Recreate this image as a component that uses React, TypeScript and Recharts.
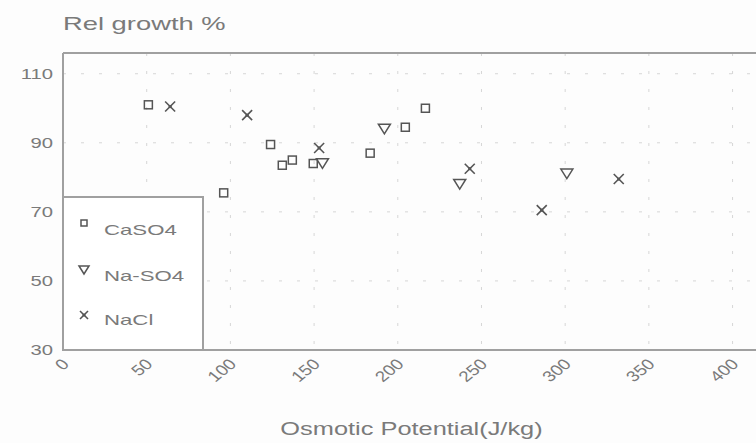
import React from "react"
import {
  ScatterChart,
  Scatter,
  XAxis,
  YAxis,
  CartesianGrid,
  Legend,
  Label,
  ReferenceLine,
} from "recharts"

// osmotic potential (J/kg) vs relative growth (%)
const caso4X = [51, 96, 124, 131, 137, 149.5, 183.5, 204.5, 216.5]
const caso4Y = [101, 75.5, 89.5, 83.5, 85, 84, 87, 94.5, 100]
const naso4X = [155, 192, 237, 301]
const naso4Y = [84, 94, 78, 81]
const naclX = [64, 110, 153, 243, 286, 332]
const naclY = [100.5, 98, 88.5, 82.5, 70.5, 79.5]

const xTicks = [0, 50, 100, 150, 200, 250, 300, 350, 400]
const yTicks = [30, 50, 70, 90, 110]
const xMax = 414
const yMin = 30
const yMax = 116

const toPoints = (xs: number[], ys: number[]) => xs.map((x, i) => ({ x, y: ys[i] }))

const INK = "#555"
const TEXT = "#7a7a7a"
const FRAME = "#a0a0a0"
const FONT = '"Liberation Sans", Arial, sans-serif'
const TICK_STRETCH = 1.25

function SquareMark({ cx, cy, s = 8 }: { cx?: number; cy?: number; s?: number }) {
  if (cx == null || cy == null) return null
  return (
    <rect x={cx - s / 2} y={cy - s / 2} width={s} height={s} fill="none" stroke={INK} strokeWidth={1.5} />
  )
}

function TriangleMark({ cx, cy, s = 12 }: { cx?: number; cy?: number; s?: number }) {
  if (cx == null || cy == null) return null
  const h = s * 0.8
  return (
    <path
      d={`M${cx - s / 2},${cy - h / 2} L${cx + s / 2},${cy - h / 2} L${cx},${cy + h / 2} Z`}
      fill="none"
      stroke={INK}
      strokeWidth={1.5}
    />
  )
}

function CrossMark({ cx, cy, s = 10 }: { cx?: number; cy?: number; s?: number }) {
  if (cx == null || cy == null) return null
  const r = s / 2
  return (
    <g stroke={INK} strokeWidth={1.6}>
      <line x1={cx - r} y1={cy - r} x2={cx + r} y2={cy + r} />
      <line x1={cx - r} y1={cy + r} x2={cx + r} y2={cy - r} />
      <circle cx={cx} cy={cy} r={1.6} fill={INK} stroke="none" />
    </g>
  )
}

const series = [
  { name: "CaSO4", data: toPoints(caso4X, caso4Y), Mark: SquareMark, legendSize: 6 },
  { name: "Na-SO4", data: toPoints(naso4X, naso4Y), Mark: TriangleMark, legendSize: 10 },
  { name: "NaCl", data: toPoints(naclX, naclY), Mark: CrossMark, legendSize: 8 },
]

function XTick({ x, y, payload }: { x?: number; y?: number; payload?: { value: number } }) {
  return (
    <text
      transform={`translate(${(x ?? 0) + 7},${(y ?? 0) + 15}) scale(${TICK_STRETCH},1) rotate(-45)`}
      textAnchor="end"
      fontSize={15}
      fontFamily={FONT}
      fill={TEXT}
    >
      {payload?.value}
    </text>
  )
}

function YTick({ x, y, payload }: { x?: number; y?: number; payload?: { value: number } }) {
  return (
    <text
      transform={`translate(${x},${(y ?? 0) + 5}) scale(1.35,1)`}
      textAnchor="end"
      fontSize={15}
      fontFamily={FONT}
      fill={TEXT}
    >
      {payload?.value}
    </text>
  )
}

function LegendBox() {
  const rows = [39, 85, 129]
  const icons = [27, 74, 119]
  return (
    <svg width={142} height={155} style={{ display: "block" }}>
      <rect x={1} y={1} width={140} height={153} fill="white" stroke={FRAME} strokeWidth={2} />
      {series.map((s, i) => (
        <g key={s.name}>
          <s.Mark cx={22} cy={icons[i]} s={s.legendSize} />
          <text
            transform={`translate(42,${rows[i]}) scale(1.48,1)`}
            fontSize={15}
            fontFamily={FONT}
            fill={TEXT}
          >
            {s.name}
          </text>
        </g>
      ))}
    </svg>
  )
}

export default function App() {
  return (
    <div style={{ position: "absolute", left: 0, top: 0, width: 756, height: 443, background: "#fdfdfd" }}>
      <ScatterChart width={756} height={443} margin={{ top: 53, right: 0, bottom: 0, left: 0 }}>
        <CartesianGrid stroke="#d6d6d6" strokeDasharray="3 15" horizontalValues={yTicks} verticalValues={xTicks} />
        <XAxis
          type="number"
          dataKey="x"
          domain={[0, xMax]}
          ticks={xTicks}
          interval={0}
          height={93}
          tickLine={false}
          tickSize={0}
          tickMargin={0}
          axisLine={{ stroke: FRAME, strokeWidth: 2 }}
          tick={<XTick />}
          label={
            <Label
              content={(p: any) => {
                const vb = p.viewBox
                return (
                  <text
                    transform={`translate(${vb.x + vb.width / 2 + 2},${vb.y + vb.height - 8}) scale(1.41,1)`}
                    textAnchor="middle"
                    fontSize={18}
                    fontFamily={FONT}
                    fill={TEXT}
                  >
                    Osmotic Potential(J/kg)
                  </text>
                )
              }}
            />
          }
        />
        <YAxis
          type="number"
          dataKey="y"
          domain={[yMin, yMax]}
          ticks={yTicks}
          interval={0}
          width={63}
          tickLine={false}
          tickSize={0}
          tickMargin={10}
          axisLine={{ stroke: FRAME, strokeWidth: 2 }}
          tick={<YTick />}
          label={
            <Label
              content={(p: any) => {
                const vb = p.viewBox
                return (
                  <text
                    transform={`translate(${vb.x + vb.width},${vb.y - 23}) scale(1.52,1)`}
                    fontSize={18}
                    fontFamily={FONT}
                    fill={TEXT}
                  >
                    Rel growth %
                  </text>
                )
              }}
            />
          }
        />
        <ReferenceLine y={yMax} stroke={FRAME} strokeWidth={2} />
        {series.map((s) => (
          <Scatter
            key={s.name}
            name={s.name}
            data={s.data}
            isAnimationActive={false}
            shape={(props: any) => <s.Mark cx={props.cx} cy={props.cy} />}
          />
        ))}
        <Legend
          layout="vertical"
          align="center"
          verticalAlign="middle"
          content={() => <LegendBox />}
          wrapperStyle={{ position: "absolute", left: 62, top: 196, width: 142, height: 155 }}
        />
      </ScatterChart>
    </div>
  )
}
